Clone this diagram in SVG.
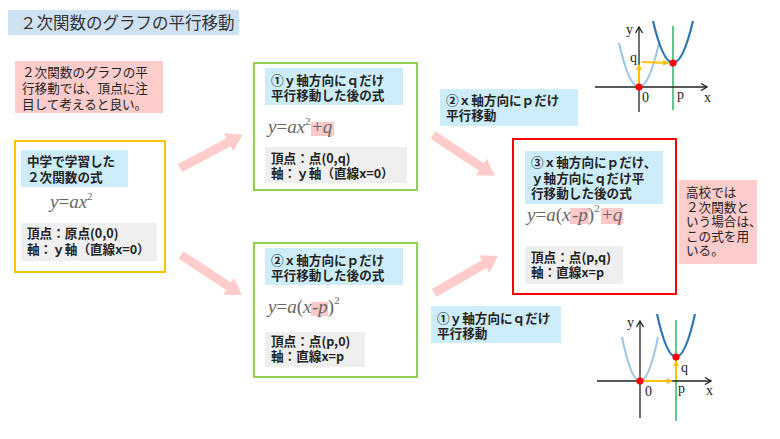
<svg xmlns="http://www.w3.org/2000/svg" width="780" height="439" viewBox="0 0 780 439">
<defs>
<style>
.jp{font-family:"Noto Sans CJK JP","Noto Sans",sans-serif;fill:#222}
.t{font-size:16.5px;fill:#333}
.n{font-size:12.6px;font-weight:400}
.b{font-size:12.6px;font-weight:700}
.lab{fill:#ccedf9}
.note{fill:#ffcccc}
.gray{fill:#efefef}
.hl{fill:#ffc9c9}
.f{font-family:"Liberation Serif","Times New Roman",serif;font-size:19px;fill:#666}
.i{font-style:italic}
.sup{font-size:11px}
.g{font-family:"Liberation Serif","Times New Roman",serif;font-size:14px;fill:#222}
.ax{stroke:#222;stroke-width:1.3;fill:none}
.lb{stroke:#9dc3e6;stroke-width:2;fill:none}
.db{stroke:#2e75b6;stroke-width:2.2;fill:none}
.gl{stroke:#00b050;stroke-width:1.3}
.or{stroke:#ffc000;stroke-width:2;fill:none}
.dot{fill:#ff0000}
.arr{fill:#ffcccc}
</style>
<marker id="axh" viewBox="0 0 8 8" refX="7" refY="4" markerWidth="8" markerHeight="8" markerUnits="userSpaceOnUse" orient="auto">
<path d="M1,0.5 L7,4 L1,7.5" fill="none" stroke="#222" stroke-width="1.3"/>
</marker>
<marker id="orh" viewBox="0 0 6 6" refX="5" refY="3" markerWidth="6" markerHeight="6" markerUnits="userSpaceOnUse" orient="auto">
<path d="M0,0 L6,3 L0,6 Z" fill="#ffc000"/>
</marker>
</defs>
<rect width="780" height="439" fill="#ffffff"/>

<g id="title">
<rect x="8" y="10" width="231" height="25" fill="#cfe2f3"/>
<text class="jp t" x="20" y="29">２次関数のグラフの平行移動</text>
</g>

<g id="note-left">
<rect class="note" x="15" y="61" width="148" height="52"/>
<text class="jp n" x="22" y="77"><tspan x="22" y="77">２次関数のグラフの平</tspan><tspan x="22" y="93">行移動では、頂点に注</tspan><tspan x="22" y="109">目して考えると良い。</tspan></text>
</g>

<g id="box-start">
<rect x="15" y="141" width="150" height="131" fill="#fff" stroke="#ffc000" stroke-width="2"/>
<rect class="lab" x="21" y="150" width="107" height="37"/>
<text class="jp b"><tspan x="27" y="166">中学で学習した</tspan><tspan x="27" y="182">２次関数の式</tspan></text>
<text class="f" x="50" y="208"><tspan class="i">y</tspan>=<tspan class="i">ax</tspan><tspan class="sup" dy="-8">2</tspan></text>
<rect class="gray" x="21" y="223" width="136" height="38"/>
<text class="jp b"><tspan x="27" y="238">頂点：原点(0,0)</tspan><tspan x="27" y="254">軸：ｙ軸（直線x=0）</tspan></text>
</g>

<g id="box-q">
<rect x="254" y="63" width="163" height="127" fill="#fff" stroke="#92d050" stroke-width="2"/>
<rect class="lab" x="265" y="68" width="138" height="37"/>
<text class="jp b"><tspan x="271" y="85">①ｙ軸方向にｑだけ</tspan><tspan x="271" y="100">平行移動した後の式</tspan></text>
<rect class="hl" x="311" y="122" width="23" height="14"/>
<text class="f" x="268" y="133"><tspan class="i">y</tspan>=<tspan class="i">ax</tspan><tspan class="sup" x="305" dy="-8">2</tspan><tspan x="312" dy="8">+</tspan><tspan class="i">q</tspan></text>
<rect class="gray" x="265" y="147" width="142" height="36"/>
<text class="jp b"><tspan x="271" y="163">頂点：点(0,q)</tspan><tspan x="271" y="178">軸：ｙ軸（直線x=0）</tspan></text>
</g>

<g id="box-p">
<rect x="254" y="243" width="163" height="134" fill="#fff" stroke="#92d050" stroke-width="2"/>
<rect class="lab" x="265" y="248" width="138" height="37"/>
<text class="jp b"><tspan x="271" y="265">②ｘ軸方向にｐだけ</tspan><tspan x="271" y="280">平行移動した後の式</tspan></text>
<rect class="hl" x="311" y="302" width="17" height="14"/>
<text class="f" x="268" y="313"><tspan class="i">y</tspan>=<tspan class="i">a</tspan>(<tspan class="i">x</tspan><tspan x="312">-</tspan><tspan class="i">p</tspan>)<tspan class="sup" dy="-9">2</tspan></text>
<rect class="gray" x="265" y="332" width="100" height="35"/>
<text class="jp b"><tspan x="271" y="346">頂点：点(p,0)</tspan><tspan x="271" y="361">軸：直線x=p</tspan></text>
</g>

<g id="box-result">
<rect x="513" y="139" width="163" height="155" fill="#fff" stroke="#ff0000" stroke-width="2"/>
<rect class="lab" x="525" y="151" width="138" height="53"/>
<text class="jp b"><tspan x="531" y="167">③ｘ軸方向にｐだけ、</tspan><tspan x="531" y="183">ｙ軸方向にｑだけ平</tspan><tspan x="531" y="198">行移動した後の式</tspan></text>
<rect class="hl" x="570" y="208" width="19" height="16"/>
<rect class="hl" x="601" y="208" width="22" height="16"/>
<text class="f" x="527" y="221"><tspan class="i">y</tspan>=<tspan class="i">a</tspan>(<tspan class="i">x</tspan><tspan x="572">-</tspan><tspan class="i">p</tspan>)<tspan class="sup" dy="-9">2</tspan><tspan x="602" dy="9">+</tspan><tspan class="i">q</tspan></text>
<rect class="gray" x="525" y="246" width="98" height="38"/>
<text class="jp b"><tspan x="531" y="262">頂点：点(p,q)</tspan><tspan x="531" y="277">軸：直線x=p</tspan></text>
</g>

<g id="note-right">
<rect class="note" x="679" y="180" width="78" height="84"/>
<text class="jp n"><tspan x="686" y="197">高校では</tspan><tspan x="686" y="212">２次関数と</tspan><tspan x="686" y="226">いう場合は、</tspan><tspan x="686" y="241">この式を用</tspan><tspan x="686" y="255">いる。</tspan></text>
</g>

<g id="label-p">
<rect class="lab" x="440" y="89" width="138" height="37"/>
<text class="jp b"><tspan x="446" y="105">②ｘ軸方向にｐだけ</tspan><tspan x="446" y="120">平行移動</tspan></text>
</g>

<g id="label-q">
<rect class="lab" x="431" y="306" width="130" height="37"/>
<text class="jp b"><tspan x="437" y="323">①ｙ軸方向にｑだけ</tspan><tspan x="437" y="338">平行移動</tspan></text>
</g>

<g id="connectors">
<path class="arr" transform="translate(180,168) rotate(-28)" d="M0,-4.5 L55,-4.5 L55,-10 L71,0 L55,10 L55,4.5 L0,4.5 Z"/>
<path class="arr" transform="translate(181,255) rotate(33.3)" d="M0,-4.5 L57,-4.5 L57,-10 L73,0 L57,10 L57,4.5 L0,4.5 Z"/>
<path class="arr" transform="translate(433,135) rotate(33.5)" d="M0,-4.5 L58,-4.5 L58,-10 L74,0 L58,10 L58,4.5 L0,4.5 Z"/>
<path class="arr" transform="translate(434,293) rotate(-30)" d="M0,-4.5 L58,-4.5 L58,-10 L74,0 L58,10 L58,4.5 L0,4.5 Z"/>
</g>

<g id="graph-top">
<line class="gl" x1="673" y1="26" x2="673" y2="110"/>
<path class="lb" d="M619,43 Q639,131 659,43"/>
<path class="db" d="M653,21 Q673,105 693,21"/>
<line class="ax" x1="595" y1="87" x2="707" y2="87" marker-end="url(#axh)"/>
<line class="ax" x1="639" y1="112" x2="639" y2="27" marker-end="url(#axh)"/>
<line class="or" x1="639" y1="86" x2="639" y2="65" marker-end="url(#orh)"/>
<line class="or" x1="642" y1="62" x2="668" y2="63" marker-end="url(#orh)"/>
<circle class="dot" cx="639" cy="87" r="3.6"/>
<circle class="dot" cx="673" cy="63" r="3.6"/>
<text class="g" x="626" y="34">y</text>
<text class="g" x="630" y="62">q</text>
<text class="g" x="642" y="102">0</text>
<text class="g" x="677" y="99">p</text>
<text class="g" x="704" y="102">x</text>
</g>

<g id="graph-bottom">
<line class="gl" x1="676" y1="320" x2="676" y2="421"/>
<path class="lb" d="M622,337 Q640,425 658,337"/>
<path class="db" d="M657,314 Q676,400 695,314"/>
<line class="ax" x1="597" y1="381" x2="711" y2="381" marker-end="url(#axh)"/>
<line class="ax" x1="640" y1="418" x2="640" y2="321" marker-end="url(#axh)"/>
<line class="or" x1="643" y1="381" x2="672" y2="381" marker-end="url(#orh)"/>
<line class="or" x1="676" y1="380" x2="676" y2="361" marker-end="url(#orh)"/>
<circle class="dot" cx="640" cy="381" r="3.6"/>
<circle class="dot" cx="676" cy="357" r="3.6"/>
<text class="g" x="627" y="327">y</text>
<text class="g" x="681" y="372">q</text>
<text class="g" x="645" y="396">0</text>
<text class="g" x="678" y="393">p</text>
<text class="g" x="706" y="395">x</text>
</g>
</svg>
